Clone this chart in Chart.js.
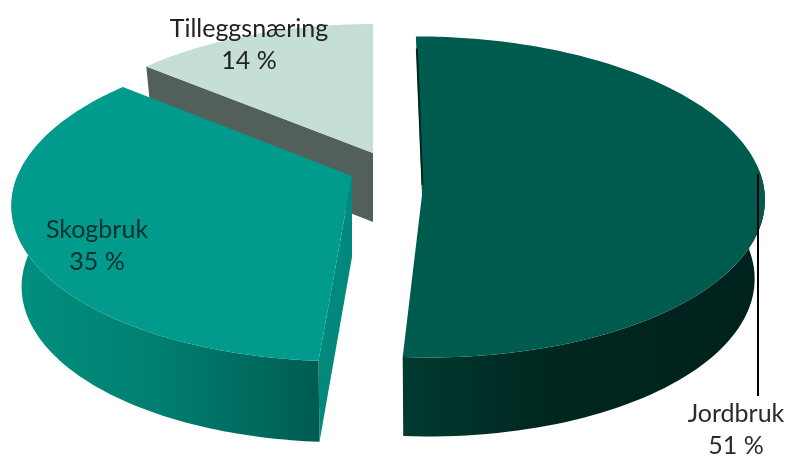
<!DOCTYPE html>
<html>
<head>
<meta charset="utf-8">
<script src="https://cdn.jsdelivr.net/npm/chart.js@4"></script>
<style>
  html, body { margin: 0; background: #fff; }
  canvas { display: block; }
</style>
</head>
<body>
<canvas id="grafico" width="785" height="456"></canvas>
<script>
const categorias = ['Jordbruk', 'Skogbruk', 'Tilleggsnæring'];
const valores = [51, 35, 14];

// Perspective of the tilted disc
const raioX = 338, raioY = 156, persp = 0.168;

// One entry per slice: where it was pulled out to, and how it is painted
const fatias = [
  { apex: [421, 170], vertice: [422, 195], escala: 1, skew: 6, prof: 79, topo: '#005b4f', face: null,
    parede: [[403, '#003a30'], [560, '#00261f'], [760, '#00221c']] },
  { apex: [352, 176], vertice: [352, 176], escala: 0.99, skew: -7, prof: 81, topo: '#009b8d', face: '#00897c',
    parede: [[15, '#00907f'], [160, '#007e70'], [318, '#005c52']] },
  { apex: [373, 153], vertice: [373, 153], escala: 0.96, skew: 0, prof: 69, topo: '#c6dfd4', face: '#525f5a',
    parede: [] }
];
const escalaBase = 0.97;

const rotulos = [
  { x: 736, y: 414, cor: '#2b2b2b' },
  { x: 97, y: 230, cor: '#04302c' },
  { x: 249, y: 29, cor: '#222222' }
];

function projetar(f, ang) {
  const u = Math.cos(ang) * f.escala;
  const v = Math.sin(ang) * f.escala;
  const w = 1 - persp * v;
  return [f.apex[0] + (raioX * u + f.skew * v) / w, f.apex[1] + raioY * v / w];
}

function base(f, p) {
  return [f.apex[0] + (p[0] - f.apex[0]) * escalaBase, p[1] + f.prof];
}

function tracar(ctx, pontos, cor) {
  ctx.beginPath();
  pontos.forEach((p, i) => i ? ctx.lineTo(p[0], p[1]) : ctx.moveTo(p[0], p[1]));
  ctx.closePath();
  ctx.fillStyle = cor;
  ctx.fill();
}

const pizza3d = {
  id: 'pizza3d',
  beforeDatasetDraw(chart, args) {
    const ctx = chart.ctx;
    const arcos = args.meta.data;
    ctx.save();
    // back slice first
    [2, 1, 0].forEach(i => {
      const f = fatias[i];
      const arco = arcos[i];
      const borda = [];
      const passos = 120;
      for (let k = 0; k <= passos; k++) {
        const ang = arco.startAngle + (arco.endAngle - arco.startAngle) * k / passos;
        borda.push({ ang, p: projetar(f, ang) });
      }
      const inicio = borda[0].p;

      if (f.face) {
        tracar(ctx, [f.apex, inicio, base(f, inicio), [f.apex[0], f.apex[1] + f.prof]], f.face);
      }

      const frente = borda.filter(b => Math.sin(b.ang) >= -0.02).map(b => b.p);
      if (frente.length && f.parede.length) {
        const x0 = f.parede[0][0], x1 = f.parede[f.parede.length - 1][0];
        const grad = ctx.createLinearGradient(x0, 0, x1, 0);
        f.parede.forEach(s => grad.addColorStop((s[0] - x0) / (x1 - x0), s[1]));
        tracar(ctx, frente.concat(frente.map(p => base(f, p)).reverse()), grad);
      }

      tracar(ctx, [f.vertice].concat(borda.map(b => b.p)), f.topo);

      if (i === 0) {
        // dark sliver along the cut edge of the big slice
        ctx.strokeStyle = '#00261f';
        ctx.lineWidth = 2;
        ctx.beginPath();
        ctx.moveTo(inicio[0] + 1, inicio[1] + 12);
        ctx.lineTo(f.vertice[0] + 0.5, f.vertice[1] - 10);
        ctx.stroke();
      }
    });

    // leader line for Jordbruk
    ctx.strokeStyle = '#000';
    ctx.lineWidth = 2;
    ctx.beginPath();
    ctx.moveTo(758, 174);
    ctx.lineTo(758, 396);
    ctx.stroke();

    ctx.font = '25px Lato';
    ctx.textAlign = 'center';
    ctx.textBaseline = 'middle';
    categorias.forEach((nome, i) => {
      ctx.fillStyle = rotulos[i].cor;
      ctx.fillText(nome, rotulos[i].x, rotulos[i].y);
      ctx.fillText(valores[i] + ' %', rotulos[i].x, rotulos[i].y + 32);
    });
    ctx.restore();
    return false;
  }
};

new Chart(document.getElementById('grafico'), {
  type: 'pie',
  data: {
    labels: categorias,
    datasets: [{ data: valores, backgroundColor: fatias.map(f => f.topo), borderWidth: 0 }]
  },
  options: {
    responsive: false,
    animation: false,
    plugins: { legend: { display: false }, tooltip: { enabled: false } }
  },
  plugins: [pizza3d]
});
</script>
</body>
</html>
